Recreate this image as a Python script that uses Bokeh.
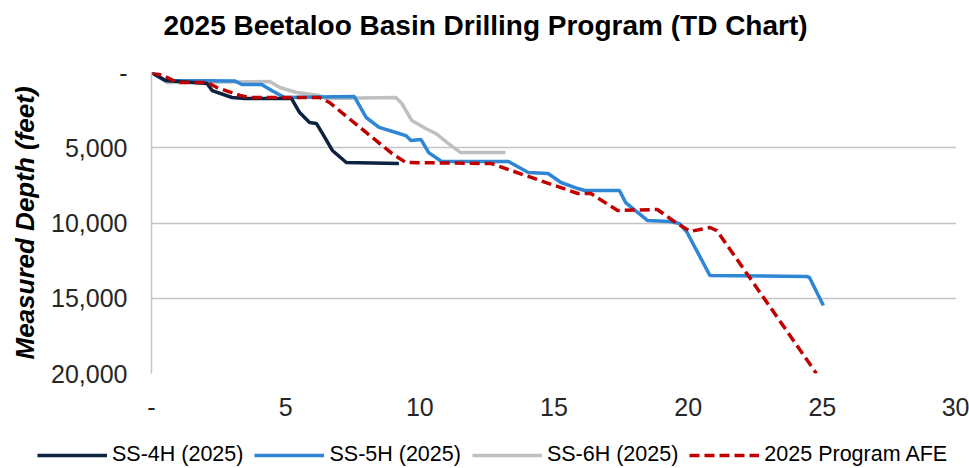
from bokeh.plotting import figure
from bokeh.models import Range1d, FixedTicker, Legend, LegendItem, Label
from bokeh.layouts import column, row
from bokeh.embed import file_html
from bokeh.resources import INLINE

# ---- data (days vs measured depth, feet) ----
ss4h_days = [0, 0.52, 2.07, 2.26, 3.0, 3.48, 5.22, 5.52, 5.89, 6.15, 6.37, 6.74, 7.26, 9.22]
ss4h_depth = [0, 530, 730, 1200, 1660, 1730, 1730, 2660, 3320, 3390, 4050, 5180, 5980, 6050]

ss5h_days = [0, 0.52, 3.1, 3.37, 4.1, 4.48, 4.96, 7.56, 8.0, 8.48, 9.11, 9.48, 9.67, 10.04,
             10.33, 10.81, 13.3, 14.04, 14.78, 15.26, 15.89, 16.15, 17.44, 17.67, 18.48,
             19.33, 19.67, 19.96, 20.81, 24.41, 24.52, 25.04]
ss5h_depth = [0, 530, 560, 800, 800, 1200, 1660, 1600, 2990, 3650, 3990, 4190, 4520, 4450,
              5320, 5910, 5910, 6640, 6710, 7310, 7710, 7840, 7840, 8640, 9830,
              9900, 10030, 10630, 13490, 13550, 13620, 15480]

ss6h_days = [0, 0.59, 4.41, 4.78, 5.41, 6.26, 6.52, 9.11, 9.33, 9.7, 10.22, 10.59, 11.07, 11.52, 13.19]
ss6h_depth = [0, 660, 600, 1000, 1330, 1530, 1730, 1660, 2060, 3190, 3720, 4050, 4720, 5320, 5320]

afe_days = [0, 0.44, 0.96, 2.07, 2.44, 3.3, 3.67, 6.26, 6.63, 8.96, 9.48, 12.67, 13.93,
            15.89, 16.37, 17.37, 18.85, 19.59, 20.07, 20.81, 21.07, 24.78]
afe_depth = [0, 200, 660, 660, 1000, 1530, 1660, 1660, 1990, 5380, 5980, 6050, 6840,
             8040, 8040, 9170, 9100, 10030, 10560, 10300, 10500, 20000]

x_ticks = [0, 5, 10, 15, 20, 25, 30]
x_labels = ["-", "5", "10", "15", "20", "25", "30"]
y_ticks = [0, 5000, 10000, 15000, 20000]
y_labels = ["-", "5,000", "10,000", "15,000", "20,000"]

title_text = "2025 Beetaloo Basin Drilling Program (TD Chart)"
series_names = ["SS-4H (2025)", "SS-5H (2025)", "SS-6H (2025)", "2025 Program AFE"]
colors = ["#0D2240", "#2E86D5", "#BFBFBF", "#C00000"]
dashes = ["solid", "solid", "solid", "10 5"]

FONT = "Liberation Sans"


def strip(h):
    f = figure(width=969, height=h, output_backend="svg", toolbar_location=None,
               x_range=Range1d(0, 969), y_range=Range1d(0, h),
               min_border_left=0, min_border_right=0, min_border_top=0, min_border_bottom=0)
    f.outline_line_color = None
    f.axis.visible = False
    f.grid.visible = False
    return f


# title strip
top = strip(50)
top.add_layout(Label(x=485, y=25, text=title_text, text_align="center", text_baseline="middle",
                     text_font=FONT, text_font_size="28px", text_font_style="bold",
                     text_color="#000000"))

# main chart
main = figure(width=969, height=380, output_backend="svg", toolbar_location=None,
              x_range=Range1d(0, 30), y_range=Range1d(20000, 0),
              min_border_left=151, min_border_right=13, min_border_top=22, min_border_bottom=57)

main.outline_line_color = None
main.xgrid.grid_line_color = None
main.ygrid.grid_line_color = "#C4C4C4"
main.ygrid.grid_line_width = 1.5

main.xaxis.ticker = FixedTicker(ticks=x_ticks)
main.xaxis.major_label_overrides = {t: l for t, l in zip(x_ticks, x_labels)}
main.yaxis.ticker = FixedTicker(ticks=y_ticks)
main.yaxis.major_label_overrides = {t: l for t, l in zip(y_ticks, y_labels)}

for ax in (main.xaxis, main.yaxis):
    ax.major_tick_line_color = None
    ax.minor_tick_line_color = None
    ax.major_label_text_font = FONT
    ax.major_label_text_font_size = "25px"
    ax.major_label_text_color = "#262626"

main.xaxis.axis_line_color = None
main.xaxis.major_label_standoff = 18
main.yaxis.axis_line_color = "#C4C4C4"
main.yaxis.axis_line_width = 1.5
main.yaxis.major_label_standoff = 18
main.yaxis.axis_label = "Measured Depth (feet)"
main.yaxis.axis_label_text_font = FONT
main.yaxis.axis_label_text_font_size = "26px"
main.yaxis.axis_label_text_font_style = "bold italic"
main.yaxis.axis_label_text_color = "#000000"
main.yaxis.axis_label_standoff = 8

r6 = main.line(ss6h_days, ss6h_depth, line_color=colors[2], line_width=3.5)
r5 = main.line(ss5h_days, ss5h_depth, line_color=colors[1], line_width=3.5)
r4 = main.line(ss4h_days, ss4h_depth, line_color=colors[0], line_width=3.5)
ra = main.line(afe_days, afe_depth, line_color=colors[3], line_width=3.5, line_dash=dashes[3])

# legend strip below the chart
leg = strip(38)
items = []
for name, col, dash in zip(series_names, colors, dashes):
    rr = leg.line([-50, -40], [-5, -5], line_color=col, line_width=3.5, line_dash=dash)
    items.append(LegendItem(label=name, renderers=[rr]))
legend = Legend(items=items, orientation="horizontal", location=(37, 1),
                label_text_font=FONT, label_text_font_size="21.5px", label_text_color="#000000",
                glyph_width=70, glyph_height=20, label_standoff=5, spacing=11,
                padding=0, margin=0, border_line_color=None, background_fill_alpha=0)
leg.add_layout(legend, "center")

p = column(row(top), main, row(leg), spacing=0)

open("out.html", "w").write(file_html(p, INLINE))
